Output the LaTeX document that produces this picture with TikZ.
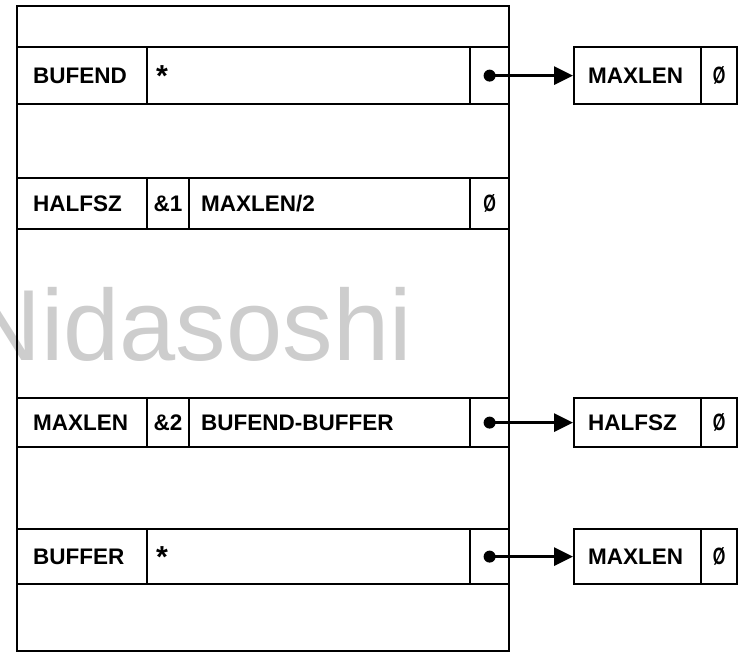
\documentclass[tikz,border=0pt]{standalone}
\usepackage{fontspec}
\usepackage{graphicx}
\setmainfont{Liberation Sans}
\usetikzlibrary{arrows.meta}
\definecolor{wmgray}{RGB}{205,205,205}
\newcommand\szero{\scalebox{0.72}[1.05]{Ø}}
\newcommand\astk{\raisebox{-0.32ex}{\scalebox{1.35}{*}}}
\begin{document}
\begin{tikzpicture}[x=1pt,y=-1pt,
  cell/.style={draw, line width=2.2pt, inner ysep=0pt, anchor=north west,
    font=\fontsize{22.5}{22.5}\selectfont\bfseries, align=left},
  frame/.style={draw, line width=2.2pt, inner sep=0pt, anchor=north west},
  dotc/.style={circle, fill, inner sep=0pt, minimum size=12pt},
  ptr/.style={line width=2.8pt, -{Triangle[length=19pt,width=18pt]}},
  wm/.style={text=wmgray, font=\fontsize{101}{101}\selectfont, inner sep=0pt, anchor=base east}]
\useasboundingbox (0,0) rectangle (738,654);
\node[wm] (wmark) at (412,360) {Nidasoshi};
\node[frame, minimum width=492pt, minimum height=645pt] (stack) at (16,5) {};
% row 1
\node[cell, minimum width=130pt, minimum height=57pt, text width=98pt, inner xsep=16pt] (b1n) at (16,46) {BUFEND};
\node[cell, minimum width=323pt, minimum height=57pt, text width=305pt, inner xsep=9pt] (b1v) at (146,46) {\astk};
\node[cell, minimum width=39pt, minimum height=57pt, inner xsep=0pt] (b1p) at (469,46) {};
% row 2
\node[cell, minimum width=130pt, minimum height=51pt, text width=98pt, inner xsep=16pt] (h2n) at (16,177) {HALFSZ};
\node[cell, minimum width=42pt, minimum height=51pt, inner xsep=0pt, align=center] (h2t) at (146,177) {\&1};
\node[cell, minimum width=281pt, minimum height=51pt, text width=257pt, inner xsep=12pt] (h2v) at (188,177) {MAXLEN/2};
\node[cell, minimum width=39pt, minimum height=51pt, inner xsep=0pt, align=center] (h2z) at (469,177) {\szero};
% row 3
\node[cell, minimum width=130pt, minimum height=49pt, text width=98pt, inner xsep=16pt] (m3n) at (16,397) {MAXLEN};
\node[cell, minimum width=42pt, minimum height=49pt, inner xsep=0pt, align=center] (m3t) at (146,397) {\&2};
\node[cell, minimum width=281pt, minimum height=49pt, text width=257pt, inner xsep=12pt] (m3v) at (188,397) {BUFEND-BUFFER};
\node[cell, minimum width=39pt, minimum height=49pt, inner xsep=0pt] (m3p) at (469,397) {};
% row 4
\node[cell, minimum width=130pt, minimum height=55pt, text width=98pt, inner xsep=16pt] (f4n) at (16,528) {BUFFER};
\node[cell, minimum width=323pt, minimum height=55pt, text width=305pt, inner xsep=9pt] (f4v) at (146,528) {\astk};
\node[cell, minimum width=39pt, minimum height=55pt, inner xsep=0pt] (f4p) at (469,528) {};
% right boxes
\node[cell, minimum width=127pt, minimum height=57pt, text width=99pt, inner xsep=14pt] (r1n) at (573,46) {MAXLEN};
\node[cell, minimum width=36pt, minimum height=57pt, inner xsep=0pt, align=center] (r1z) at (700,46) {\szero};
\node[cell, minimum width=127pt, minimum height=49pt, text width=99pt, inner xsep=14pt] (r3n) at (573,397) {HALFSZ};
\node[cell, minimum width=36pt, minimum height=49pt, inner xsep=0pt, align=center] (r3z) at (700,397) {\szero};
\node[cell, minimum width=127pt, minimum height=55pt, text width=99pt, inner xsep=14pt] (r4n) at (573,528) {MAXLEN};
\node[cell, minimum width=36pt, minimum height=55pt, inner xsep=0pt, align=center] (r4z) at (700,528) {\szero};
% pointers
\node[dotc] (d1) at (b1p.center) {};
\node[dotc] (d3) at (m3p.center) {};
\node[dotc] (d4) at (f4p.center) {};
\draw[ptr] (d1.center) -- (r1n.west);
\draw[ptr] (d3.center) -- (r3n.west);
\draw[ptr] (d4.center) -- (r4n.west);
\end{tikzpicture}
\end{document}
